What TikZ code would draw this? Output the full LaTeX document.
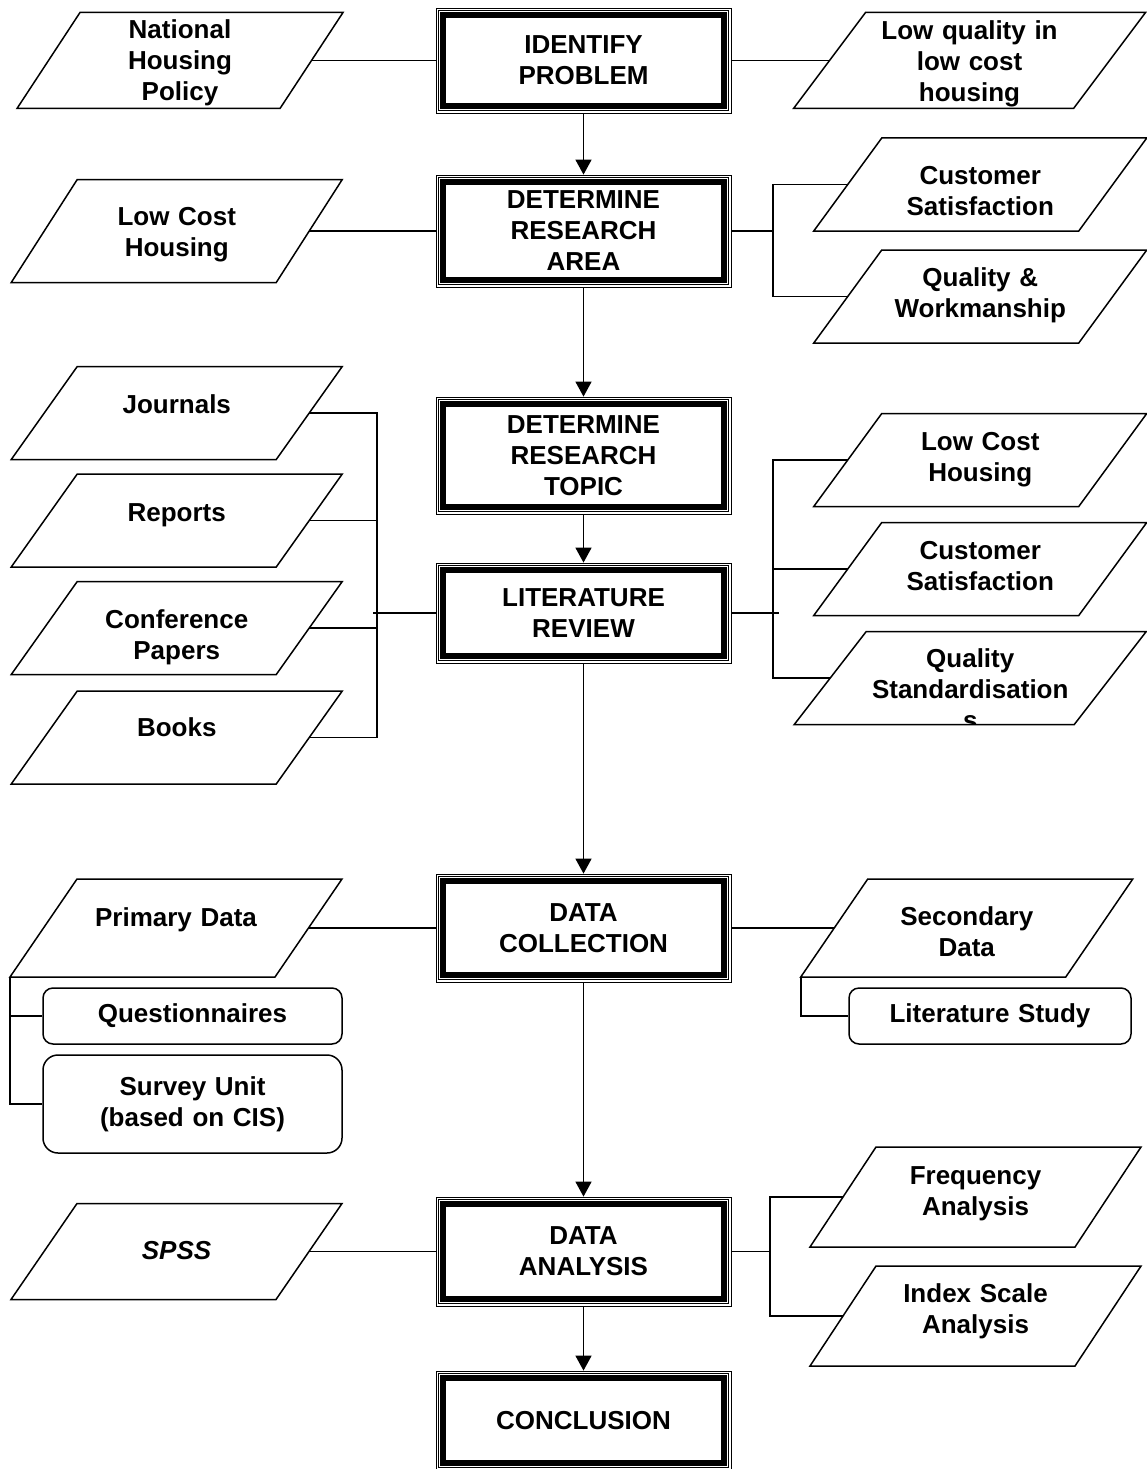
\documentclass[tikz,border=0pt]{standalone}
\usepackage{fontspec}
\setmainfont{Liberation Sans}
\usetikzlibrary{arrows.meta}
\tikzstyle{procbox} = [rectangle, draw, line width=0.8pt, minimum width=295pt,
    text width=270pt, text centered, inner sep=0pt]
\tikzstyle{datain} = [rectangle, minimum width=265pt, minimum height=93pt,
    text width=230pt, text centered, inner sep=0pt, outer sep=0pt]
\tikzstyle{srcbox} = [rectangle, draw, line width=1.5pt, rounded corners=10pt,
    minimum width=299pt, minimum height=56pt, text width=280pt, text centered, inner sep=0pt]
\tikzstyle{line} = [draw, line width=1.5pt, -{Triangle[length=15pt,width=16pt]}]
\tikzstyle{link} = [draw, line width=1.5pt]

\begin{document}
\begin{tikzpicture}[x=1pt,y=-1pt,every node/.style={font=\fontsize{26pt}{31pt}\selectfont\bfseries}]
    \useasboundingbox (0,0) rectangle (1147,1469);
    % Place nodes
    \node [procbox, minimum height=105pt] (idp) at (583.5,60.5) {IDENTIFY\\PROBLEM};
    \node [procbox, below of=idp, node distance=170.5pt, minimum height=112pt] (dra) {DETERMINE\\RESEARCH\\AREA};
    \node [procbox, below of=dra, node distance=224.5pt, minimum height=117pt] (drt) {DETERMINE\\RESEARCH\\TOPIC};
    \node [procbox, below of=drt, node distance=157.5pt, minimum height=100pt] (lit) {LITERATURE\\REVIEW};
    \node [procbox, below of=lit, node distance=315pt, minimum height=108pt] (dcol) {DATA\\COLLECTION};
    \node [procbox, below of=dcol, node distance=323.5pt, minimum height=109pt] (dan) {DATA\\ANALYSIS};
    \node [procbox, below of=dan, node distance=169pt, minimum height=99pt] (conc) {CONCLUSION};

    \node [datain, left of=idp, node distance=403.5pt, minimum width=263pt, minimum height=96pt, text height=26.5pt, text depth=69.5pt] (nhp) {National\\Housing\\Policy};
    \node [datain, right of=idp, node distance=386pt, minimum width=280pt, minimum height=96pt, text height=27pt, text depth=69pt] (lq) {Low quality in\\low cost\\housing};

    \node [datain, left of=dra, node distance=406.75pt, minimum height=103pt, text height=45.5pt, text depth=57.5pt] (lchl) {Low Cost\\Housing};
    \node [datain, right of=dra, node distance=396.75pt, yshift=46.5pt, text height=46.5pt, text depth=46.5pt] (cs1) {Customer\\Satisfaction};
    \node [datain, below of=cs1, node distance=112pt, text height=36.5pt, text depth=56.5pt] (qw) {Quality \&\\Workmanship};

    \node [datain, left of=drt, node distance=406.75pt, yshift=42.5pt, text height=46.5pt, text depth=46.5pt] (jour) {Journals};
    \node [datain, below of=jour, node distance=107.5pt, text height=47.5pt, text depth=45.5pt] (rep) {Reports};
    \node [datain, below of=rep, node distance=107.5pt, text height=46.5pt, text depth=46.5pt] (conf) {Conference\\Papers};
    \node [datain, below of=conf, node distance=109.5pt, text height=45.5pt, text depth=47.5pt] (books) {Books};

    \node [datain, right of=drt, node distance=396.75pt, yshift=-4.5pt, text height=36.5pt, text depth=56.5pt] (lchr) {Low Cost\\Housing};
    \node [datain, below of=lchr, node distance=109pt, text height=36.5pt, text depth=56.5pt] (csr) {Customer\\Satisfaction};
    \node [datain, below of=csr, node distance=109pt, xshift=-10pt, minimum width=280pt] (qs) {};

    \node [datain, left of=dcol, node distance=407.5pt, minimum height=98pt, text height=47pt, text depth=51pt] (pd) {Primary Data};
    \node [datain, right of=dcol, node distance=383.25pt, minimum height=98pt, text height=46.5pt, text depth=51.5pt] (sd) {Secondary\\Data};
    \node [srcbox, below of=pd, node distance=88pt, xshift=16.5pt] (quest) {Questionnaires};
    \node [srcbox, below of=quest, node distance=88pt, minimum height=98pt, rounded corners=15pt] (surv) {Survey Unit\\(based on CIS)};
    \node [srcbox, below of=sd, node distance=88pt, xshift=23.25pt, minimum width=282pt] (lstudy) {Literature Study};

    \node [datain, left of=dan, node distance=407pt, minimum height=96pt, text height=55.5pt, text depth=40.5pt,
        font=\fontsize{26pt}{31pt}\selectfont\bfseries\itshape] (spss) {SPSS};
    \node [datain, right of=dan, node distance=392pt, yshift=54.5pt, minimum height=100pt, text height=37.5pt, text depth=62.5pt] (fa) {Frequency\\Analysis};
    \node [datain, below of=fa, node distance=119pt, minimum height=100pt, text height=36.5pt, text depth=63.5pt] (ia) {Index Scale\\Analysis};

    % text of the last box runs past its bottom edge
    \begin{scope}
        \clip ([xshift=36pt]qs.north west) -- ([xshift=36pt]qs.north east) -- ([xshift=-36pt]qs.south east) -- ([xshift=-36pt]qs.south west) -- cycle;
        \node [datain, minimum width=280pt, text height=36pt, text depth=57pt] (qstxt) at (qs) {Quality\\Standardisation\\s};
    \end{scope}

    % branch points
    \coordinate [right of=dra, node distance=189.5pt] (brA);
    \coordinate [left of=lit, node distance=206.5pt] (brB);
    \coordinate [right of=lit, node distance=189.5pt] (brC);
    \coordinate [right of=dan, node distance=186.5pt] (brD);
    \coordinate (pdc) at ([xshift=-33.5pt]pd.south west);
    \coordinate (sdc) at ([xshift=-33.5pt]sd.south west);

    % Draw frames
    \foreach \nd in {idp,dra,drt,lit,dcol,dan,conc} {
        \draw [line width=0.8pt] ([shift={(2.6pt,-2.6pt)}]\nd.north west) rectangle ([shift={(-2.6pt,2.6pt)}]\nd.south east);
        \draw [line width=5.3pt] ([shift={(7.4pt,-7.4pt)}]\nd.north west) rectangle ([shift={(-7.4pt,7.4pt)}]\nd.south east);
    }
    \foreach \nd/\off in {nhp/31.5,lq/36,lchl/33,cs1/34,qw/34,jour/33,rep/33,conf/33,books/33,
        lchr/34,csr/34,qs/36,pd/33.5,sd/33.5,spss/33,fa/33,ia/33}
        \path [link] ([xshift=\off pt]\nd.north west) -- ([xshift=\off pt]\nd.north east)
            -- ([xshift=-\off pt]\nd.south east) -- ([xshift=-\off pt]\nd.south west) -- cycle;

    % Draw edges
    \path [line] (idp) -- (dra);
    \path [line] (dra) -- (drt);
    \path [line] (drt) -- (lit);
    \path [line] (lit) -- (dcol);
    \path [line] (dcol) -- (dan);
    \path [line] (dan) -- (conc);

    \path [link] (nhp) -- (idp);
    \path [link] (idp) -- (lq);
    \path [link] (lchl) -- (dra);
    \path [link] (dra) -- (brA);
    \path [link] (cs1.west) -| (brA) |- (qw.west);

    \path [link] (jour.east) -| (brB) |- (books.east);
    \path [link] (rep.east) -- (rep.east -| brB);
    \path [link] (conf.east) -- (conf.east -| brB);
    \path [link] ([xshift=-4pt]brB) -- (lit);
    \path [link] (lchr.west) -| (brC) |- (qs.west);
    \path [link] (csr.west) -- (csr.west -| brC);
    \path [link] (lit) -- ([xshift=6pt]brC);

    \path [link] (pd) -- (dcol);
    \path [link] (dcol) -- (sd);
    \path [link] (pdc) |- (surv.west);
    \path [link] (quest.west) -- (quest.west -| pdc);
    \path [link] (sdc) |- (lstudy.west);

    \path [link] (spss) -- (dan);
    \path [link] (dan) -- (brD);
    \path [link] (fa.west) -| (brD) |- (ia.west);

\end{tikzpicture}
\end{document}
